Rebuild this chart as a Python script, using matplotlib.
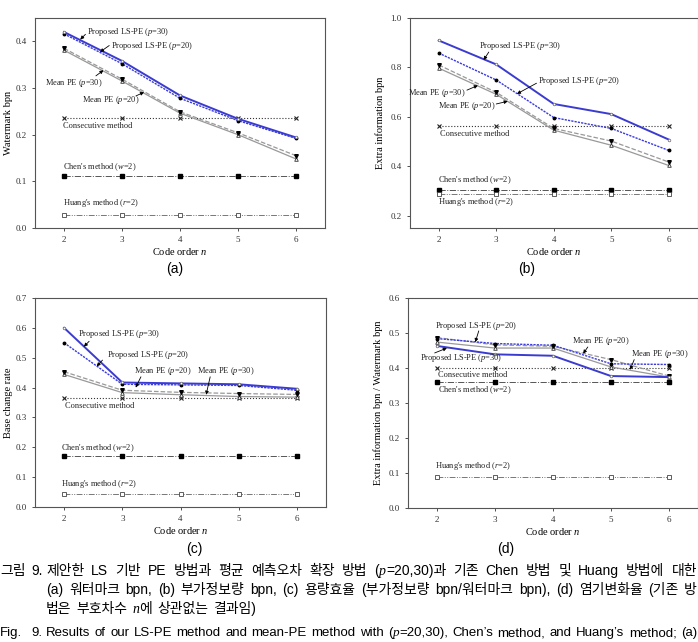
import numpy as np
import matplotlib.pyplot as plt

plt.rcParams['font.family'] = 'Liberation Serif'
plt.rcParams['mathtext.fontset'] = 'custom'
plt.rcParams['mathtext.rm'] = 'Liberation Serif'
plt.rcParams['mathtext.it'] = 'Liberation Serif:italic'

orders = [2, 3, 4, 5, 6]

# (a) watermark bpn
wm_ls30 = [0.420, 0.358, 0.284, 0.234, 0.194]
wm_ls20 = [0.416, 0.352, 0.278, 0.230, 0.192]
wm_mean30 = [0.385, 0.319, 0.249, 0.204, 0.155]
wm_mean20 = [0.381, 0.315, 0.246, 0.200, 0.148]
wm_consec = 0.235
wm_chen = 0.111
wm_huang = 0.027

# (b) extra information bpn
ei_ls30 = [0.909, 0.812, 0.652, 0.611, 0.508]
ei_ls20 = [0.858, 0.749, 0.597, 0.553, 0.464]
ei_mean30 = [0.810, 0.699, 0.553, 0.502, 0.417]
ei_mean20 = [0.797, 0.691, 0.546, 0.485, 0.403]
ei_consec = 0.562
ei_chen = 0.302
ei_huang = 0.288

# (c) base change rate
bc_ls30 = [0.600, 0.417, 0.414, 0.411, 0.396]
bc_ls20 = [0.550, 0.411, 0.409, 0.407, 0.391]
bc_mean30 = [0.453, 0.391, 0.384, 0.380, 0.377]
bc_mean20 = [0.444, 0.383, 0.376, 0.370, 0.368]
bc_consec = 0.365
bc_chen = 0.170
bc_huang = 0.042

# (d) extra information bpn / watermark bpn
ratio_ls30 = [0.463, 0.439, 0.435, 0.377, 0.374]
ratio_ls20 = [0.484, 0.470, 0.465, 0.412, 0.410]
ratio_mean30 = [0.487, 0.466, 0.462, 0.424, 0.377]
ratio_mean20 = [0.474, 0.457, 0.457, 0.403, 0.374]
ratio_consec = 0.400
ratio_chen = 0.360
ratio_huang = 0.090

W, H = 698, 642
fig = plt.figure(figsize=(W / 100, H / 100), dpi=100)


def box(l, t, r, b):
    return [l / W, 1 - b / H, (r - l) / W, (b - t) / H]


def draw_panel(ax, ls30, ls20, mean30, mean20, consec, chen, huang):
    n = np.array(orders)
    ax.plot(n, [consec] * len(n), ls=':', color='#333333', lw=0.8,
            marker='x', ms=3.2, mec='#222222', mew=0.8)
    ax.plot(n, [chen] * len(n), ls='-.', color='#555555', lw=0.7,
            marker='s', ms=2.3, mfc='black', mec='black')
    ax.plot(n, [huang] * len(n), ls=(0, (6, 1.5, 1, 1.5, 1, 1.5)), color='#777777', lw=0.7,
            marker='s', ms=2.3, mfc='white', mec='#444444', mew=0.6)
    ax.plot(n, mean20, '-', color='#999999', lw=0.9,
            marker='^', ms=2.6, mfc='white', mec='#333333', mew=0.6)
    ax.plot(n, mean30, '--', color='#999999', lw=0.9,
            marker='v', ms=2.6, mfc='black', mec='black')
    ax.plot(n, ls20, ls=(0, (1.6, 0.8)), color='#3a3ae0', lw=1.0,
            marker='o', ms=1.8, mfc='black', mec='black')
    ax.plot(n, ls30, '-', color='#3b3bd0', lw=1.4,
            marker='o', ms=1.9, mfc='white', mec='#666666', mew=0.5)
    ax.set_xlim(1.5, 6.5)
    ax.set_xticks(orders)
    ax.set_xlabel('Code order $n$', fontsize=7.5, labelpad=1.5)
    ax.tick_params(labelsize=6.5, length=2.5, width=0.6, colors='#333333', direction='out')
    for s in ax.spines.values():
        s.set_color('#555555')
        s.set_linewidth(0.8)


def note(ax, txt, x, y, ha='left', arrow=None):
    ax.text(x, y, txt, fontsize=6, ha=ha, va='center', color='#222222')
    if arrow:
        ax.annotate('', xy=arrow[1], xytext=arrow[0],
                    arrowprops=dict(arrowstyle='-|>', color='black', lw=0.6,
                                    mutation_scale=5, shrinkA=0, shrinkB=0))


# (a)
ax = fig.add_axes(box(35, 18, 325, 228))
draw_panel(ax, wm_ls30, wm_ls20, wm_mean30, wm_mean20, wm_consec, wm_chen, wm_huang)
ax.set_ylim(0, 0.45)
ax.set_yticks(np.arange(0, 0.41, 0.1))
ax.yaxis.set_major_formatter('{x:.1f}')
ax.set_ylabel('Watermark bpn', fontsize=7.5, labelpad=2)
note(ax, 'Proposed LS-PE ($p$=30)', 2.40, 0.421, arrow=((2.37, 0.415), (2.28, 0.404)))
note(ax, 'Proposed LS-PE ($p$=20)', 2.81, 0.391, arrow=((2.78, 0.391), (2.62, 0.377)))
note(ax, 'Mean PE ($p$=30)', 2.66, 0.311, ha='right', arrow=((2.55, 0.326), (2.68, 0.338)))
note(ax, 'Mean PE ($p$=20)', 2.31, 0.275, arrow=((3.24, 0.283), (3.38, 0.291)))
note(ax, 'Consecutive method', 1.99, 0.219)
note(ax, "Chen's method ($w$=2)", 1.99, 0.131)
note(ax, "Huang's method ($r$=2)", 1.99, 0.054)

# (b)
ax = fig.add_axes(box(410, 18, 697.5, 228))
draw_panel(ax, ei_ls30, ei_ls20, ei_mean30, ei_mean20, ei_consec, ei_chen, ei_huang)
ax.set_ylim(0.15, 1.0)
ax.set_yticks(np.arange(0.2, 1.01, 0.2))
ax.yaxis.set_major_formatter('{x:.1f}')
ax.set_ylabel('Extra information bpn', fontsize=7.5, labelpad=4)
note(ax, 'Proposed LS-PE ($p$=30)', 2.70, 0.887, arrow=((2.87, 0.862), (2.78, 0.830)))
note(ax, 'Proposed LS-PE ($p$=20)', 3.73, 0.744, arrow=((3.70, 0.736), (3.36, 0.693)))
note(ax, 'Mean PE ($p$=30)', 2.47, 0.695, ha='right', arrow=((2.49, 0.708), (2.68, 0.727)))
note(ax, 'Mean PE ($p$=20)', 2.98, 0.645, ha='right', arrow=((3.00, 0.652), (3.20, 0.663)))
note(ax, 'Consecutive method', 2.03, 0.532)
note(ax, "Chen's method ($w$=2)", 1.99, 0.345)
note(ax, "Huang's method ($r$=2)", 1.99, 0.254)

# (c)
ax = fig.add_axes(box(35, 298, 326, 507))
draw_panel(ax, bc_ls30, bc_ls20, bc_mean30, bc_mean20, bc_consec, bc_chen, bc_huang)
ax.set_ylim(0, 0.7)
ax.set_yticks(np.arange(0, 0.71, 0.1))
ax.yaxis.set_major_formatter('{x:.1f}')
ax.set_ylabel('Base change rate', fontsize=7.5, labelpad=2)
note(ax, 'Proposed LS-PE ($p$=30)', 2.24, 0.578, arrow=((2.43, 0.555), (2.34, 0.537)))
note(ax, 'Proposed LS-PE ($p$=20)', 2.73, 0.508, arrow=((2.66, 0.492), (2.56, 0.471)))
note(ax, 'Mean PE ($p$=20)', 3.20, 0.455, arrow=((3.32, 0.436), (3.23, 0.400)))
note(ax, 'Mean PE ($p$=30)', 4.29, 0.455, arrow=((4.51, 0.436), (4.44, 0.376)))
note(ax, 'Consecutive method', 2.01, 0.337)
note(ax, "Chen's method ($w$=2)", 1.95, 0.198)
note(ax, "Huang's method ($r$=2)", 1.95, 0.076)

# (d)
ax = fig.add_axes(box(408, 298, 698, 508))
draw_panel(ax, ratio_ls30, ratio_ls20, ratio_mean30, ratio_mean20, ratio_consec, ratio_chen, ratio_huang)
ax.set_ylim(0, 0.6)
ax.set_yticks(np.arange(0, 0.61, 0.1))
ax.yaxis.set_major_formatter('{x:.1f}')
ax.set_ylabel('Extra information bpn / Watermark bpn', fontsize=7.5, labelpad=4)
note(ax, 'Proposed LS-PE ($p$=20)', 1.96, 0.519, arrow=((2.72, 0.506), (2.66, 0.474)))
note(ax, 'Proposed LS-PE ($p$=30)', 1.71, 0.430, arrow=((1.96, 0.443), (2.17, 0.457)))
note(ax, 'Mean PE ($p$=20)', 4.33, 0.476, arrow=((4.60, 0.460), (4.52, 0.441)))
note(ax, 'Mean PE ($p$=30)', 5.34, 0.441, arrow=((5.40, 0.424), (5.33, 0.395)))
note(ax, 'Consecutive method', 2.02, 0.379)
note(ax, "Chen's method ($w$=2)", 2.02, 0.336)
note(ax, "Huang's method ($r$=2)", 1.96, 0.119)

# sub-figure labels
sans = ['Liberation Sans', 'Noto Sans CJK KR']
for lab, x, y in [('(a)', 175, 269), ('(b)', 527, 269), ('(c)', 194, 549), ('(d)', 506, 549)]:
    fig.text(x / W, 1 - y / H, lab, fontsize=10, family=sans, ha='center', va='center')

# caption, justified word by word
fig.canvas.draw()
renderer = fig.canvas.get_renderer()
cap_size = 10


def make_word(word, size):
    parts = word.split('_')
    items = []
    for i, s in enumerate(parts):
        if not s:
            continue
        if i % 2:
            t = fig.text(0, 0, s, fontsize=size, family='Liberation Serif', style='italic', va='baseline')
        else:
            t = fig.text(0, 0, s, fontsize=size, family=sans, va='baseline')
        items.append(t)
    return items


def width(items):
    return sum(t.get_window_extent(renderer).width for t in items)


def put_line(text, x0, x1, y, justify=True, size=cap_size):
    words = [make_word(w, size) for w in text.split(' ')]
    widths = [width(w) for w in words]
    if justify and len(words) > 1:
        gap = (x1 - x0 - sum(widths)) / (len(words) - 1)
    else:
        gap = size * 0.5
    x = x0
    for items, wd in zip(words, widths):
        xx = x
        for t in items:
            t.set_position((xx / W, 1 - y / H))
            xx += t.get_window_extent(renderer).width
        x += wd + gap


put_line('그림', 0, 0, 575, justify=False)
put_line('9.', 31, 31, 575, justify=False)
put_line('제안한 LS 기반 PE 방법과 평균 예측오차 확장 방법 (_p_=20,30)과 기존 Chen 방법 및 Huang 방법에 대한',
         46, 697, 575)
put_line('(a) 워터마크 bpn, (b) 부가정보량 bpn, (c) 용량효율 (부가정보량 bpn/워터마크 bpn), (d) 염기변화율 (기존 방',
         46, 697, 594)
put_line('법은 부호차수 _n_에 상관없는 결과임)', 46, 698, 613, justify=False)
put_line('Fig.', 0, 0, 636, justify=False, size=9.5)
put_line('9.', 31, 31, 636, justify=False, size=9.5)
put_line("Results of our LS-PE method and mean-PE method with (_p_=20,30), Chen’s method, and Huang’s method; (a)",
         46, 697, 636, size=9.5)

fig.savefig('out.png', dpi=100)
